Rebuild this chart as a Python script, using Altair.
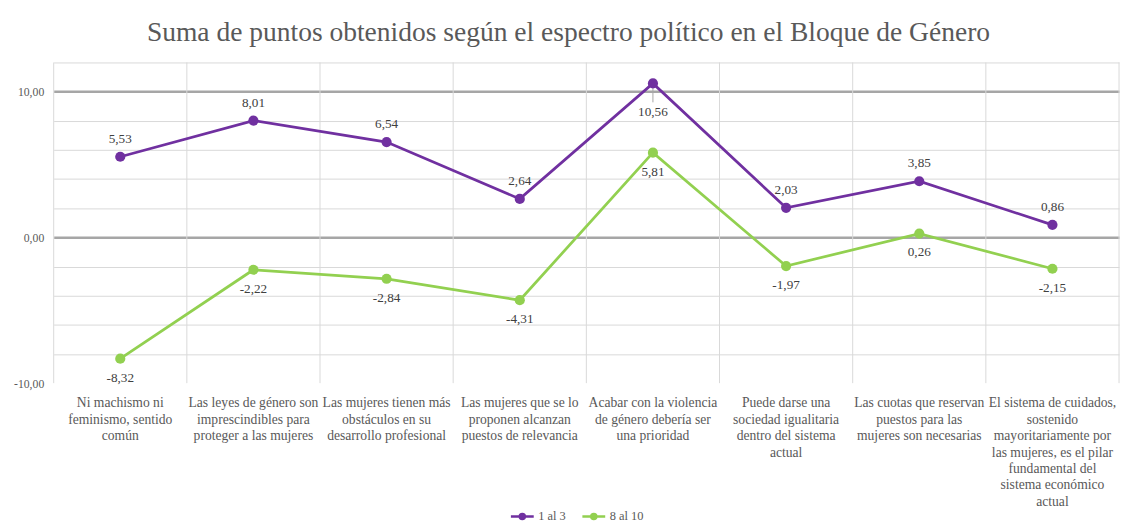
import altair as alt
import pandas as pd

# ---------------- data ----------------
categories = [
    "Ni machismo ni|feminismo, sentido|común",
    "Las leyes de género son|imprescindibles para|proteger a las mujeres",
    "Las mujeres tienen más|obstáculos en su|desarrollo profesional",
    "Las mujeres que se lo|proponen alcanzan|puestos de relevancia",
    "Acabar con la violencia|de género debería ser|una prioridad",
    "Puede darse una|sociedad igualitaria|dentro del sistema|actual",
    "Las cuotas que reservan|puestos para las|mujeres son necesarias",
    "El sistema de cuidados,|sostenido|mayoritariamente por|las mujeres, es el pilar|fundamental del|sistema económico|actual",
]
serie_1_3 = [5.53, 8.01, 6.54, 2.64, 10.56, 2.03, 3.85, 0.86]
serie_8_10 = [-8.32, -2.22, -2.84, -4.31, 5.81, -1.97, 0.26, -2.15]
series_names = ["1 al 3", "8 al 10"]
y_ticks = [-10, -8, -6, -4, -2, 0, 2, 4, 6, 8, 10, 12]
title_text = "Suma de puntos obtenidos según el espectro político en el Bloque de Género"

rows = []
for i, c in enumerate(categories):
    rows.append({"cat": c, "serie": series_names[0], "valor": serie_1_3[i]})
    rows.append({"cat": c, "serie": series_names[1], "valor": serie_8_10[i]})
df = pd.DataFrame(rows)
df["etiqueta"] = df["valor"].map(lambda v: f"{v:.2f}".replace(".", ","))
cat_df = pd.DataFrame({"cat": categories})
last_df = pd.DataFrame({"cat": categories[-1:]})

FONT = "Liberation Serif"
GRAY_TXT = "#595959"
PURPLE = "#7030A0"
GREEN = "#92D050"

x_scale = alt.Scale(type="band", domain=categories, paddingInner=0, paddingOuter=0)
y_scale = alt.Scale(domain=[-10, 12], nice=False, zero=False)
color_scale = alt.Scale(domain=series_names, range=[PURPLE, GREEN])

x_axis = alt.Axis(
    title=None, labelExpr="split(datum.label, '|')", labelAngle=0,
    labelFont=FONT, labelFontSize=13.7, labelColor=GRAY_TXT,
    labelLineHeight=16.5, labelLimit=300, labelPadding=13,
    labelBaseline="top", ticks=False, domain=False, grid=False,
)
y_axis = alt.Axis(
    title=None, values=y_ticks,
    labelExpr="datum.value % 10 === 0 ? replace(replace(format(datum.value, '.2f'), '.', ','), '\u2212', '-') : ''",
    labelFont=FONT, labelFontSize=11.8, labelColor=GRAY_TXT, labelPadding=10,
    ticks=False, domain=False, grid=True,
    gridColor={"condition": {"test": "datum.value === 0 || datum.value === 10", "value": "#a6a6a6"}, "value": "#d9d9d9"},
    gridWidth={"condition": {"test": "datum.value === 0 || datum.value === 10", "value": 2.5}, "value": 1},
    gridOpacity={"condition": {"test": "datum.value === -10", "value": 0}, "value": 1},
)

X = alt.X("cat:N", scale=x_scale, sort=categories, axis=x_axis)
Y = alt.Y("valor:Q", scale=y_scale, axis=y_axis)
legend = alt.Legend(
    title=None, orient="none", legendX=459, legendY=444, direction="horizontal",
    symbolType="M-1,0L1,0M-0.22,0A0.22,0.22,0,1,1,0.22,0A0.22,0.22,0,1,1,-0.22,0Z",
    symbolSize=529, symbolStrokeWidth=2.5,
    labelFont=FONT, labelFontSize=12.5, labelColor=GRAY_TXT,
    columnPadding=11, labelOffset=3,
)
C = alt.Color("serie:N", scale=color_scale, legend=legend)

vrules = alt.Chart(cat_df).mark_rule(color="#d9d9d9", strokeWidth=1).encode(
    x=alt.X("cat:N", scale=x_scale, sort=categories, bandPosition=0, axis=x_axis)
)
vrule_end = alt.Chart(last_df).mark_rule(color="#d9d9d9", strokeWidth=1).encode(
    x=alt.X("cat:N", scale=x_scale, sort=categories, bandPosition=1, axis=x_axis)
)

base = alt.Chart(df)
lines = base.mark_line(strokeWidth=2.75).encode(x=X, y=Y, color=C)
points = base.mark_point(filled=True, size=105, opacity=1).encode(x=X, y=Y, color=C)

txt_style = dict(font=FONT, fontSize=13.3, color="#404040", baseline="middle", align="center")
lab_up = base.transform_filter(
    "datum.serie === '1 al 3' && datum.valor < 10"
).mark_text(dy=-18, **txt_style).encode(x=X, y=Y, text="etiqueta:N")
lab_top = base.transform_filter(
    "datum.serie === '1 al 3' && datum.valor >= 10"
).mark_text(dy=29, **txt_style).encode(x=X, y=Y, text="etiqueta:N")
leader = base.transform_filter(
    "datum.serie === '1 al 3' && datum.valor >= 10"
).mark_rule(color="#a6a6a6", strokeWidth=1, yOffset=4, y2Offset=19).encode(x=X, y=Y, y2="valor:Q")
lab_down = base.transform_filter(
    "datum.serie === '8 al 10'"
).mark_text(dy=19, **txt_style).encode(x=X, y=Y, text="etiqueta:N")

chart = alt.layer(vrules, vrule_end, leader, lines, points, lab_up, lab_top, lab_down).properties(
    width=1073, height=323,
    title=alt.TitleParams(
        text=title_text, font=FONT, fontSize=27.7, color=GRAY_TXT, fontWeight="normal",
        anchor="middle", dx=-18, offset=15,
    ),
    autosize=alt.AutoSizeParams(type="none"),
    padding={"left": 46, "top": 53, "right": 4, "bottom": 139},
).configure(
    background="white", font=FONT
).configure_view(
    stroke=None
).configure_axis(
    labelFont=FONT
).configure_legend(
    labelFont=FONT
)

chart.save("out.html", embed_options={"renderer": "svg", "actions": False})
